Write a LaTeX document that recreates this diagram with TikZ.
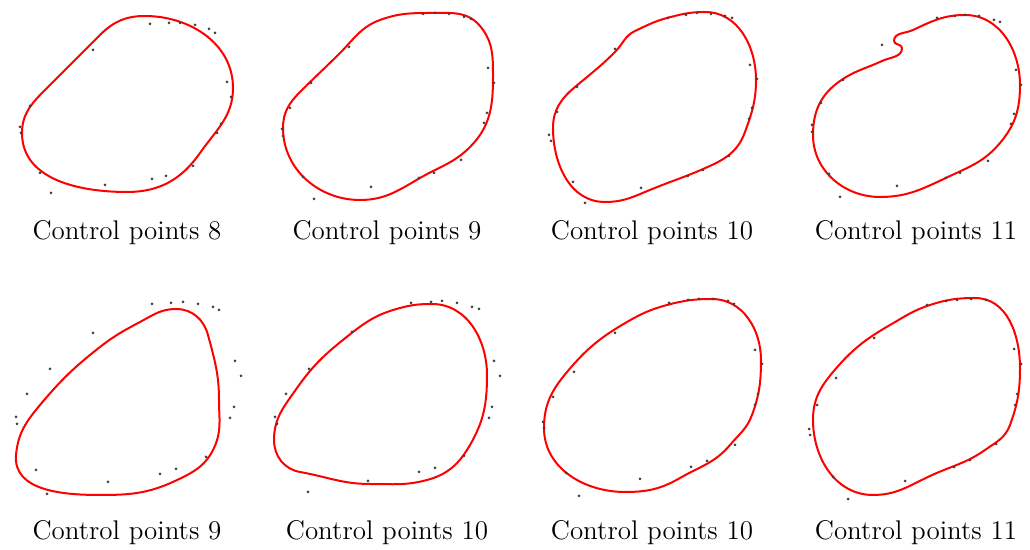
\documentclass[tikz,border=0pt]{standalone}
\tikzset{
  bspline/.style={red,line width=1pt,line join=round},
  ctrlpt/.style={fill=black!75},
  caption/.style={font=\fontsize{13.5}{16}\selectfont,inner sep=0pt}
}

\begin{document}
\begin{tikzpicture}[x=0.5pt,y=-0.5pt]
  \useasboundingbox (0,0) rectangle (1030,550);

  % top row
  \draw[bspline] (145,16) to[out=0,in=90] (233,88) to[out=-90,in=55] (200,153)
    to[out=-125,in=0] (127,192) to[out=180,in=-90] (22,133) to[out=90,in=-135] (45,90)
    to[out=45,in=-135] (100,35) to[out=45,in=180] cycle;
  \foreach \p in {(150,24),(169,23),(180,23),(195,25),(209,29),(215,33),(93,50),(227,82),(231,97),(221,124),(217,133),(30,106),(20,127),(21,133),(40,173),(51,193),(105,185),(152,179),(166,176),(193,166)}
    \fill[ctrlpt] \p circle (0.75pt);
  \node[caption] (cap8) at (127,233) {Control points 8};

  \draw[bspline] (430,13) to[out=0,in=130] (480,26) to[out=-50,in=90] (493,78)
    to[out=-90,in=45] (470,147) to[out=-135,in=30] (420,178) to[out=-150,in=0] (360,200)
    to[out=180,in=-90] (283,128) to[out=90,in=-135] (300,92) to[out=45,in=-135] (340,53)
    to[out=45,in=-160] (380,20) to[out=20,in=180] cycle;
  \foreach \p in {(423,14),(435,13),(449,14),(464,17),(471,19),(349,47),(311,83),(290,108),(282,129),(283,136),(488,68),(494,83),(487,113),(484,123),(461,160),(434,173),(419,178),(303,177),(314,199),(371,187)}
    \fill[ctrlpt] \p circle (0.75pt);
  \node[caption] (cap9) at (387,233) {Control points 9};

  \draw[bspline] (705,12) to[out=0,in=90] (756,80) to[out=-90,in=70] (745,132)
    to[out=-110,in=25] (712,165) to[out=-155,in=23] (645,192) to[out=-157,in=0] (605,202)
    to[out=180,in=-90] (553,128) to[out=90,in=-140] (575,87) to[out=40,in=-135] (615,52)
    to[out=45,in=-155] (635,31) to[out=25,in=-165] (667,18) to[out=15,in=180] cycle;
  \foreach \p in {(668,18),(686,15),(697,13),(711,14),(725,16),(732,18),(615,49),(577,87),(557,112),(549,135),(551,141),(750,65),(757,79),(752,108),(749,119),(729,156),(703,170),(688,176),(573,182),(585,203),(641,188)}
    \fill[ctrlpt] \p circle (0.75pt);
  \node[caption] (cap10) at (652,233) {Control points 10};

  \draw[bspline] (965,15) to[out=0,in=90] (1020,85) to[out=-90,in=50] (1000,143)
    to[out=-130,in=25] (950,176) to[out=-155,in=0] (880,197) to[out=180,in=-90] (813,135)
    to[out=90,in=-145] (840,81) to[out=35,in=-155] (882,61) to[out=25,in=-90] (902,48)
    to[out=90,in=-90] (894,41) to[out=90,in=-155] (913,30) to[out=25,in=180] cycle;
  \foreach \p in {(937,18),(955,16),(965,15),(979,16),(994,20),(1000,22),(882,45),(843,80),(821,103),(812,125),(812,132),(1016,70),(1021,85),(1014,114),(1011,124),(988,161),(960,173),(946,178),(829,174),(840,197),(897,186)}
    \fill[ctrlpt] \p circle (0.75pt);
  \node[caption] (cap11) at (916,233) {Control points 11};

  % bottom row
  \draw[bspline] (176,309) to[out=0,in=105] (208,335) to[out=-75,in=90] (219,400)
    to[out=-90,in=65] (214,448) to[out=-115,in=25] (175,481) to[out=-155,in=0] (100,495)
    to[out=180,in=-95] (16,455) to[out=85,in=-130] (40,405) to[out=50,in=-142] (100,347)
    to[out=38,in=-152] (140,322) to[out=28,in=180] cycle;
  \foreach \p in {(152,304),(171,303),(183,302),(198,304),(213,307),(219,310),(93,333),(50,369),(27,394),(16,417),(17,424),(235,361),(241,376),(234,407),(230,418),(206,457),(176,469),(160,474),(36,470),(47,494),(108,482)}
    \fill[ctrlpt] \p circle (0.75pt);
  \node[caption] (capb9) at (127,533) {Control points 9};

  \draw[bspline] (432,304) to[out=0,in=90] (487,375) to[out=-90,in=60] (470,445)
    to[out=-120,in=15] (427,480) to[out=-165,in=0] (370,484) to[out=180,in=-10] (300,472)
    to[out=170,in=-90] (274,440) to[out=90,in=-125] (297,388) to[out=55,in=-142] (353,332)
    to[out=38,in=-165] (400,308) to[out=15,in=180] cycle;
  \foreach \p in {(411,303),(431,302),(442,301),(457,303),(472,307),(479,309),(352,332),(309,369),(286,394),(275,417),(277,424),(494,361),(500,376),(492,407),(489,418),(464,456),(435,468),(419,472),(308,492),(368,481)}
    \fill[ctrlpt] \p circle (0.75pt);
  \node[caption] (capb10) at (387,533) {Control points 10};

  \draw[bspline] (712,299) to[out=0,in=90] (761,360) to[out=-90,in=70] (752,415)
    to[out=-110,in=50] (730,445) to[out=-130,in=30] (680,478) to[out=-150,in=0] (625,492)
    to[out=180,in=-90] (544,428) to[out=90,in=-130] (567,372) to[out=50,in=-150] (627,322)
    to[out=30,in=-165] (667,305) to[out=15,in=180] cycle;
  \foreach \p in {(669,303),(688,300),(699,299),(713,299),(728,301),(734,304),(615,333),(574,372),(553,397),(543,422),(544,428),(755,350),(762,364),(758,394),(755,405),(735,445),(707,461),(691,467),(566,473),(579,496),(640,479)}
    \fill[ctrlpt] \p circle (0.75pt);
  \node[caption] (capc10) at (652,533) {Control points 10};

  \draw[bspline] (975,298) to[out=0,in=90] (1020,368) to[out=-90,in=70] (1010,425)
    to[out=-110,in=35] (985,450) to[out=-145,in=25] (930,476) to[out=-155,in=0] (873,495)
    to[out=180,in=-90] (813,420) to[out=90,in=-130] (833,372) to[out=50,in=-150] (890,325)
    to[out=30,in=-162] (930,305) to[out=18,in=180] cycle;
  \foreach \p in {(927,305),(946,301),(957,300),(971,299),(986,300),(1014,349),(1021,364),(1017,394),(1015,405),(996,444),(970,460),(954,467),(874,338),(836,378),(817,405),(809,429),(810,435),(833,477),(848,499),(905,481)}
    \fill[ctrlpt] \p circle (0.75pt);
  \node[caption] (capb11) at (916,533) {Control points 11};
\end{tikzpicture}
\end{document}
